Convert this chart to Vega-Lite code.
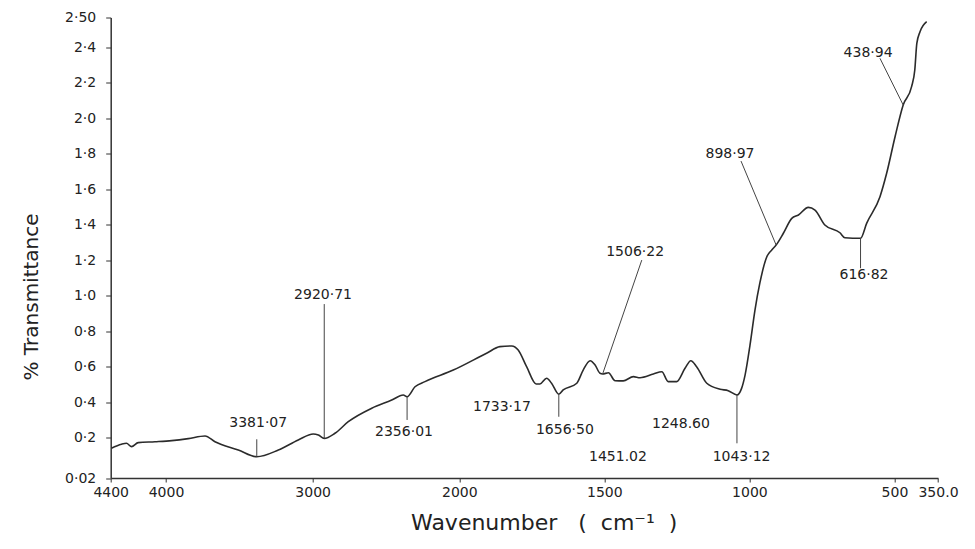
{
  "$schema": "https://vega.github.io/schema/vega-lite/v6.json",
  "width": 827.3,
  "height": 460.5,
  "autosize": {"type": "none"},
  "padding": {"left": 110.7, "top": 17.5, "right": 37, "bottom": 71},
  "background": "white",
  "config": {"view": {"stroke": null}, "font": "DejaVu Sans", "axis": {"grid": false}},
  "datasets": {
    "spectrum": [
      {"x": 4395, "y": 0.153}, {"x": 4322, "y": 0.171}, {"x": 4286, "y": 0.175}, {"x": 4249, "y": 0.160},
      {"x": 4201, "y": 0.178}, {"x": 4080, "y": 0.182}, {"x": 3961, "y": 0.187}, {"x": 3848, "y": 0.196},
      {"x": 3734, "y": 0.210}, {"x": 3666, "y": 0.182}, {"x": 3507, "y": 0.145}, {"x": 3381, "y": 0.115},
      {"x": 3234, "y": 0.145}, {"x": 3098, "y": 0.190}, {"x": 2996, "y": 0.221}, {"x": 2961, "y": 0.215},
      {"x": 2921, "y": 0.197}, {"x": 2848, "y": 0.225}, {"x": 2757, "y": 0.290}, {"x": 2597, "y": 0.366},
      {"x": 2461, "y": 0.412}, {"x": 2382, "y": 0.441}, {"x": 2356, "y": 0.431}, {"x": 2302, "y": 0.487},
      {"x": 2234, "y": 0.516}, {"x": 2041, "y": 0.581}, {"x": 1906, "y": 0.676}, {"x": 1860, "y": 0.713},
      {"x": 1819, "y": 0.717}, {"x": 1797, "y": 0.694}, {"x": 1768, "y": 0.600}, {"x": 1735, "y": 0.503},
      {"x": 1722, "y": 0.503}, {"x": 1699, "y": 0.535}, {"x": 1682, "y": 0.507}, {"x": 1657, "y": 0.445},
      {"x": 1642, "y": 0.469}, {"x": 1595, "y": 0.507}, {"x": 1573, "y": 0.581}, {"x": 1549, "y": 0.634},
      {"x": 1532, "y": 0.610}, {"x": 1515, "y": 0.563}, {"x": 1506, "y": 0.559}, {"x": 1486, "y": 0.566},
      {"x": 1463, "y": 0.521}, {"x": 1435, "y": 0.520}, {"x": 1400, "y": 0.544}, {"x": 1377, "y": 0.538},
      {"x": 1331, "y": 0.559}, {"x": 1302, "y": 0.572}, {"x": 1280, "y": 0.516}, {"x": 1251, "y": 0.516},
      {"x": 1222, "y": 0.591}, {"x": 1202, "y": 0.634}, {"x": 1182, "y": 0.600}, {"x": 1147, "y": 0.507},
      {"x": 1101, "y": 0.473}, {"x": 1073, "y": 0.465}, {"x": 1043, "y": 0.441}, {"x": 1027, "y": 0.478},
      {"x": 1015, "y": 0.553}, {"x": 998, "y": 0.722}, {"x": 981, "y": 0.918}, {"x": 964, "y": 1.072},
      {"x": 940, "y": 1.220}, {"x": 923, "y": 1.258}, {"x": 908, "y": 1.286}, {"x": 883, "y": 1.352},
      {"x": 854, "y": 1.436}, {"x": 831, "y": 1.455}, {"x": 797, "y": 1.498}, {"x": 774, "y": 1.483},
      {"x": 740, "y": 1.399}, {"x": 688, "y": 1.355}, {"x": 671, "y": 1.327}, {"x": 617, "y": 1.324},
      {"x": 596, "y": 1.408}, {"x": 550, "y": 1.558}, {"x": 527, "y": 1.690}, {"x": 498, "y": 1.896},
      {"x": 470, "y": 2.075}, {"x": 441, "y": 2.178}, {"x": 430, "y": 2.272}, {"x": 423, "y": 2.413},
      {"x": 412, "y": 2.452}, {"x": 389, "y": 2.486}
    ],
    "leaders": [
      {"x": 3381, "y": 0.193, "x2": 3381, "y2": 0.115},
      {"x": 2921, "y": 0.953, "x2": 2921, "y2": 0.197},
      {"x": 2356, "y": 0.300, "x2": 2356, "y2": 0.431},
      {"x": 1657, "y": 0.318, "x2": 1657, "y2": 0.445},
      {"x": 1043, "y": 0.175, "x2": 1043, "y2": 0.441},
      {"x": 617, "y": 1.155, "x2": 617, "y2": 1.324},
      {"x": 1371, "y": 1.201, "x2": 1506, "y2": 0.559},
      {"x": 1029, "y": 1.759, "x2": 908, "y2": 1.286},
      {"x": 550, "y": 2.338, "x2": 470, "y2": 2.075}
    ],
    "labels": [
      {"label": "3381·07", "x": 3371, "y": 0.281},
      {"label": "2920·71", "x": 2929, "y": 1.004},
      {"label": "2356·01", "x": 2377, "y": 0.234},
      {"label": "1733·17", "x": 1853, "y": 0.375},
      {"label": "1656·50", "x": 1636, "y": 0.243},
      {"label": "1451.02", "x": 1453, "y": 0.112},
      {"label": "1248.60", "x": 1236, "y": 0.277},
      {"label": "1043·12", "x": 1027, "y": 0.115},
      {"label": "1506·22", "x": 1394, "y": 1.248},
      {"label": "898·97", "x": 1067, "y": 1.799},
      {"label": "438·94", "x": 591, "y": 2.366},
      {"label": "616·82", "x": 605, "y": 1.117}
    ]
  },
  "encoding": {
    "x": {
      "field": "x",
      "type": "quantitative",
      "scale": {"domain": [4400, 4000, 2000, 350], "range": [0, 55.3, 348.6, 827.3], "zero": false, "nice": false},
      "axis": {
        "values": [4400, 4000, 3000, 2000, 1500, 1000, 500, 350],
        "labelExpr": "datum.value == 350 ? '350.0' : format(datum.value, 'd')",
        "labelFontSize": 14,
        "labelColor": "#222",
        "labelPadding": 3,
        "labelFlush": false,
        "labelOverlap": false,
        "tickSize": 4,
        "tickColor": "#333",
        "domainColor": "#333",
        "domainWidth": 1.5,
        "title": "Wavenumber\u00a0\u00a0\u00a0(\u00a0\u00a0cm⁻¹\u00a0\u00a0)",
        "titleFontSize": 22,
        "titleFontWeight": "normal",
        "titleColor": "#222",
        "titleX": 433,
        "titleY": 44,
        "titleBaseline": "middle",
        "titleAlign": "center"
      }
    },
    "y": {
      "field": "y",
      "type": "quantitative",
      "scale": {"domain": [0.02, 0.2, 2.4, 2.5], "range": [460.5, 420.2, 29.8, 0], "zero": false, "nice": false},
      "axis": {
        "values": [0.02, 0.2, 0.4, 0.6, 0.8, 1.0, 1.2, 1.4, 1.6, 1.8, 2.0, 2.2, 2.4, 2.5],
        "labelExpr": "datum.value == 2.5 ? '2·50' : (datum.value == 0.02 ? '0·02' : replace(format(datum.value, '.1f'), '.', '·'))",
        "labelFontSize": 14,
        "labelColor": "#222",
        "labelPadding": 10,
        "labelOverlap": false,
        "labelFlush": false,
        "tickSize": 5,
        "tickColor": "#333",
        "domainColor": "#333",
        "domainWidth": 1.5,
        "title": "% Transmittance",
        "titleFontSize": 20,
        "titleFontWeight": "normal",
        "titleColor": "#222",
        "titleAngle": -90,
        "titleX": -79,
        "titleY": 279,
        "titleBaseline": "middle",
        "titleAlign": "center"
      }
    }
  },
  "layer": [
    {
      "data": {"name": "spectrum"},
      "mark": {"type": "line", "color": "#2b2b2b", "strokeWidth": 1.6, "interpolate": "monotone"}
    },
    {
      "data": {"name": "leaders"},
      "mark": {"type": "rule", "color": "#444", "strokeWidth": 1},
      "encoding": {"x2": {"field": "x2"}, "y2": {"field": "y2"}}
    },
    {
      "data": {"name": "labels"},
      "mark": {"type": "text", "fontSize": 14, "color": "#222", "baseline": "middle", "align": "center"},
      "encoding": {"text": {"field": "label"}}
    }
  ]
}
